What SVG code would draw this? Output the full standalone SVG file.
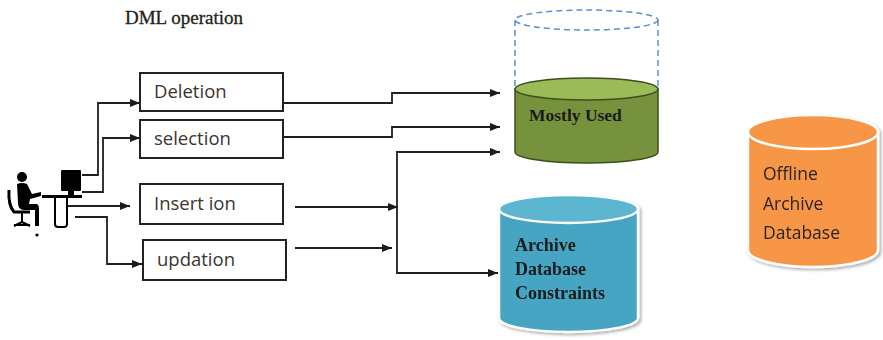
<svg xmlns="http://www.w3.org/2000/svg" width="883" height="340" viewBox="0 0 883 340">
  <defs>
    <marker id="arrow" viewBox="0 0 10 8" refX="10" refY="4" markerWidth="10" markerHeight="8" markerUnits="userSpaceOnUse" orient="auto">
      <path d="M0,0 L10,4 L0,8 Z" fill="#1a1a1a"/>
    </marker>
    <filter id="shadow" x="-10%" y="-10%" width="130%" height="130%">
      <feDropShadow dx="2" dy="2" stdDeviation="1.5" flood-color="#000" flood-opacity="0.3"/>
    </filter>
  </defs>
  <style>
    .box { fill: #ffffff; stroke: #222; stroke-width: 2; }
    .lbl { font-family: "Open Sans", "Liberation Sans", sans-serif; font-size: 18.5px; fill: #3a3530; }
    .conn { fill: none; stroke: #1f1f1f; stroke-width: 1.8; }
    .serif { font-family: "Liberation Serif", serif; font-weight: bold; fill: #1a1a1a; }
    .store { font-family: "Open Sans", "Liberation Sans", sans-serif; font-size: 17.5px; fill: #2a2420; }
    .icon { fill: #000; }
  </style>
  <rect width="883" height="340" fill="#ffffff"/>

  <text x="125" y="24" font-family="Liberation Serif, serif" font-size="19" fill="#222" stroke="#222" stroke-width="0.3">DML operation</text>

  <!-- user at workstation -->
  <g id="user">
    <circle class="icon" cx="22" cy="177" r="5"/>
    <path class="icon" d="M17,184 Q22,182 27,184 L32,194 L41,192 L41,196 L30,199 L29,204 L37,204 Q39,205 39,208 L39,226 L35,226 L35,210 L24,210 Q18,210 18,203 Z"/>
    <path d="M9,190 Q8,205 14,212 L30,212" fill="none" stroke="#000" stroke-width="3"/>
    <path d="M22,212 L22,222 M14,225 L30,225 M22,222 L14,226 M22,222 L30,226" fill="none" stroke="#000" stroke-width="2"/>
    <circle class="icon" cx="37" cy="235" r="1.6"/>
    <rect class="icon" x="61" y="170" width="20" height="21" rx="1"/>
    <rect class="icon" x="68" y="191" width="6" height="4"/>
    <rect class="icon" x="42" y="195" width="40" height="3"/>
    <path d="M55,198 L55,224 Q55,227 58,227 L64,227 Q67,227 67,224 L67,198" fill="none" stroke="#000" stroke-width="2"/>
  </g>

  <!-- operation boxes -->
  <g id="deletion">
    <rect class="box" x="140" y="73" width="143" height="38"/>
    <text class="lbl" x="154" y="98">Deletion</text>
  </g>
  <g id="selection">
    <rect class="box" x="140" y="120" width="143" height="38"/>
    <text class="lbl" x="154" y="145">selection</text>
  </g>
  <g id="insertion">
    <rect class="box" x="140" y="184" width="143" height="40"/>
    <text class="lbl" x="154" y="210">Insert ion</text>
  </g>
  <g id="updation">
    <rect class="box" x="143" y="240" width="143" height="40"/>
    <text class="lbl" x="157" y="266">updation</text>
  </g>

  <!-- mostly used store with dashed headroom -->
  <g id="mostly-used">
    <path d="M515,20 L515,89 M658,20 L658,89" fill="none" stroke="#5b8fd0" stroke-width="1.5" stroke-dasharray="6,4"/>
    <ellipse cx="586.5" cy="20" rx="71.5" ry="10" fill="none" stroke="#5b8fd0" stroke-width="1.5" stroke-dasharray="6,4"/>
    <path d="M515,89 L515,152 A71.5,11 0 0 0 658,152 L658,89 Z" fill="#76923c" stroke="#3d4f1c" stroke-width="1.5"/>
    <ellipse cx="586.5" cy="89" rx="71.5" ry="11" fill="#9bbb59" stroke="#3d4f1c" stroke-width="1.5"/>
    <text class="serif" x="529" y="121" font-size="17.5">Mostly Used</text>
  </g>

  <!-- archive store -->
  <g id="archive-constraints" filter="url(#shadow)">
    <path d="M499,209 L499,318 A69.5,14 0 0 0 638,318 L638,209 Z" fill="#45a5c2" stroke="#ffffff" stroke-width="2.5"/>
    <ellipse cx="568.5" cy="209" rx="69.5" ry="14" fill="#5cb6cf" stroke="#ffffff" stroke-width="2.5"/>
    <text class="serif" x="515" y="251" font-size="18">Archive</text>
    <text class="serif" x="515" y="275" font-size="18">Database</text>
    <text class="serif" x="515" y="299" font-size="18">Constraints</text>
  </g>

  <!-- offline store -->
  <g id="offline-archive" filter="url(#shadow)">
    <path d="M748,132 L748,250 A65,17 0 0 0 878,250 L878,132 Z" fill="#f79646" stroke="#ffffff" stroke-width="2.5"/>
    <ellipse cx="813" cy="132" rx="65" ry="17" fill="#f79646" stroke="#ffffff" stroke-width="2.5"/>
    <text class="store" x="763" y="180">Offline</text>
    <text class="store" x="763" y="210">Archive</text>
    <text class="store" x="763" y="239">Database</text>
  </g>

  <g id="connectors">
    <polyline class="conn" points="82,175 98,175 98,103 140,103" marker-end="url(#arrow)"/>
    <polyline class="conn" points="82,192 103,192 103,138 140,138" marker-end="url(#arrow)"/>
    <polyline class="conn" points="68,206 130,206" marker-end="url(#arrow)"/>
    <polyline class="conn" points="75,217 107,217 107,264 142,264" marker-end="url(#arrow)"/>
    <polyline class="conn" points="283,103 392,103 392,93 500,93" marker-end="url(#arrow)"/>
    <polyline class="conn" points="283,137 392,137 392,127 500,127" marker-end="url(#arrow)"/>
    <polyline class="conn" points="295,207 398,207" marker-end="url(#arrow)"/>
    <polyline class="conn" points="295,248 392,248" marker-end="url(#arrow)"/>
    <polyline class="conn" points="500,152 397,152 397,273 498,273" marker-end="url(#arrow)"/>
    <polyline class="conn" points="490,152 500,152" marker-end="url(#arrow)"/>
  </g>
</svg>
